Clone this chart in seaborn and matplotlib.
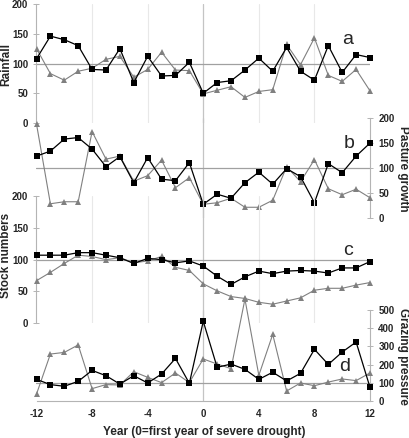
import matplotlib
matplotlib.use("Agg")
import matplotlib.pyplot as plt
import seaborn as sns
import pandas as pd

# Data (index values)
years = list(range(-12, 13))

rainfall_sq = [108, 146, 140, 130, 90, 89, 125, 68, 112, 79, 80, 102, 50,
               68, 71, 89, 109, 87, 127, 87, 72, 130, 85, 115, 110]
rainfall_tri = [125, 83, 72, 87, 92, 107, 112, 77, 90, 119, 89, 88, 49,
                55, 61, 43, 53, 56, 132, 98, 143, 80, 70, 90, 54]

pasture_sq = [124, 134, 158, 161, 138, 103, 123, 71, 121, 78, 75, 111, 28,
              48, 40, 71, 92, 68, 99, 83, 31, 109, 91, 124, 150]
pasture_tri = [188, 29, 33, 33, 173, 118, 124, 74, 85, 116, 61, 81, 28,
               31, 40, 22, 22, 36, 103, 73, 117, 59, 47, 58, 41]

stock_sq = [107, 107, 107, 111, 111, 107, 103, 94, 102, 100, 95, 98, 90,
            74, 61, 73, 82, 78, 82, 83, 82, 79, 87, 87, 97]
stock_tri = [67, 80, 94, 107, 105, 100, 103, 95, 98, 105, 88, 83, 62,
             51, 42, 39, 33, 30, 35, 40, 52, 55, 55, 60, 64]

grazing_sq = [119, 90, 81, 108, 168, 139, 93, 139, 99, 148, 234, 97, 438,
              185, 203, 174, 119, 158, 110, 152, 284, 201, 269, 324, 75]
grazing_tri = [38, 258, 267, 308, 68, 90, 88, 161, 130, 101, 154, 101, 231,
               203, 178, 560, 141, 366, 55, 99, 84, 104, 121, 112, 154]

x_ticks = [-12, -8, -4, 0, 4, 8, 12]

sns.set_style("white")
plt.rcParams["font.family"] = ["Liberation Sans", "DejaVu Sans"]

W, H = 410, 438
fig = plt.figure(figsize=(W / 100, H / 100), dpi=100)

AXIS_GREY = "#b4b4b4"
GRID_GREY = "#e8e8e8"


def make_axes(y_top, y_bottom):
    ax = fig.add_axes([36.5 / W, 1 - y_bottom / H, 333.5 / W, (y_bottom - y_top) / H])
    ax.set_facecolor("none")
    ax.set_xlim(-12, 12)
    for side in ["top", "right", "bottom", "left"]:
        ax.spines[side].set_visible(False)
        ax.spines[side].set_color(AXIS_GREY)
        ax.spines[side].set_linewidth(0.8)
    return ax


panels = [
    # (top px, bottom px, ymax, yticks, side, squares, triangles, letter, letter pos)
    (4, 123, 200, [0, 50, 100, 150, 200], "left", rainfall_sq, rainfall_tri, "a", (10.4, 141)),
    (118, 218.3, 200, [0, 50, 100, 150, 200], "right", pasture_sq, pasture_tri, "b", (10.5, 150)),
    (196, 323.3, 200, [0, 50, 100, 150, 200], "left", stock_sq, stock_tri, "c", (10.4, 115)),
    (310, 401, 500, [0, 100, 200, 300, 400, 500], "right", grazing_sq, grazing_tri, "d", (10.2, 192)),
]

axes = []
for top, bottom, ymax, yticks, side, sq, tri, letter, pos in panels:
    ax = make_axes(top, bottom)
    ax.set_ylim(0, ymax)

    # vertical grid (only on the left-axis panels) and the year-0 line
    if side == "left":
        for gx in [-8, -4, 4, 8]:
            ax.axvline(gx, color=GRID_GREY, lw=0.8, zorder=0)
    ax.axvline(0, color="#c4c4c4", lw=0.9, zorder=0)
    ax.axhline(100, color="#a0a0a0", lw=0.9, zorder=1)

    df = pd.DataFrame({"year": years, "sq": sq, "tri": tri})
    sns.lineplot(data=df, x="year", y="tri", ax=ax, color="#808080",
                 marker="^", markersize=4.8, markeredgewidth=0,
                 linewidth=0.8, clip_on=False, zorder=3)
    sns.lineplot(data=df, x="year", y="sq", ax=ax, color="black",
                 marker="s", markersize=4.5, markeredgewidth=0,
                 linewidth=0.9, clip_on=False, zorder=4)
    ax.set_xlabel("")
    ax.set_ylabel("")

    ax.spines[side].set_visible(True)
    if side == "left":
        ax.yaxis.tick_left()
    else:
        ax.yaxis.tick_right()
    ax.set_yticks(yticks, labels=[str(t) for t in yticks],
                  fontweight="bold", fontsize=7)
    ax.tick_params(axis="y", direction="inout", length=4, width=0.7,
                   color=AXIS_GREY, pad=4)
    ax.set_xticks([])

    ax.text(pos[0], pos[1], letter, fontsize=14, ha="center", va="center")
    axes.append(ax)

# bottom axis on the last panel
ax_d = axes[3]
ax_d.spines["bottom"].set_visible(True)
ax_d.set_xticks(x_ticks, labels=[str(t) for t in x_ticks],
                fontweight="bold", fontsize=7)
ax_d.tick_params(axis="x", direction="out", length=4, width=0.7,
                 color=AXIS_GREY, pad=2)

# axis titles
lab = dict(fontsize=8.5, fontweight="bold", ha="center", va="center")
fig.text(6.5 / W, 1 - 64 / H, "Rainfall", rotation=90, **lab)
fig.text(6.5 / W, 1 - 255 / H, "Stock numbers", rotation=90, **lab)
fig.text(403 / W, 1 - 169 / H, "Pasture growth", rotation=-90, **lab)
fig.text(403 / W, 1 - 356 / H, "Grazing pressure", rotation=-90, **lab)
fig.text(204 / W, 1 - 432 / H, "Year (0=first year of severe drought)", **lab)

fig.savefig("out.png", dpi=100)
